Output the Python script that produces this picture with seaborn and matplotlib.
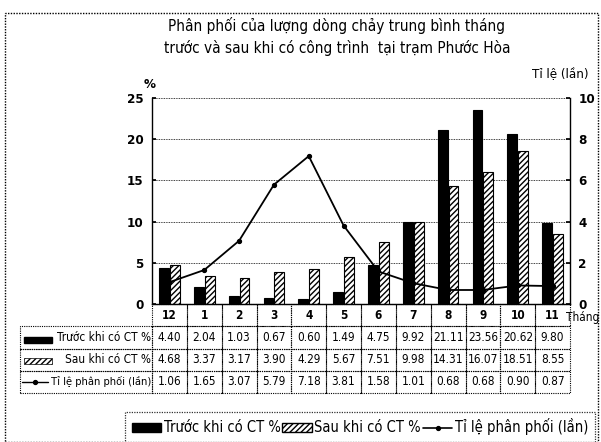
import matplotlib
matplotlib.use("Agg")
import matplotlib.pyplot as plt
from matplotlib.patches import Rectangle
from matplotlib.lines import Line2D
import numpy as np
import pandas as pd
import seaborn as sns

# data
months = ["12", "1", "2", "3", "4", "5", "6", "7", "8", "9", "10", "11"]
truoc = [4.40, 2.04, 1.03, 0.67, 0.60, 1.49, 4.75, 9.92, 21.11, 23.56, 20.62, 9.80]
sau = [4.68, 3.37, 3.17, 3.90, 4.29, 5.67, 7.51, 9.98, 14.31, 16.07, 18.51, 8.55]
ti_le = [1.06, 1.65, 3.07, 5.79, 7.18, 3.81, 1.58, 1.01, 0.68, 0.68, 0.90, 0.87]

lbl_truoc = "Trước khi có CT %"
lbl_sau = "Sau khi có CT %"
lbl_tile = "Tỉ lệ phân phối (lần)"

sns.set_theme(style="white")
plt.rcParams["font.family"] = ["DejaVu Sans"]
plt.rcParams["font.stretch"] = "condensed"
for k in ["text.color", "axes.labelcolor", "xtick.color", "ytick.color"]:
    plt.rcParams[k] = "black"

W, H = 601, 442
fig = plt.figure(figsize=(W / 100, H / 100), dpi=100)

def fx(px):
    return px / W

def fy(py):
    return 1 - py / H

left, right, top, bottom = 152, 570, 98, 304
ax = fig.add_axes([fx(left), fy(bottom), fx(right - left), (bottom - top) / H])

df = pd.DataFrame({
    "month": months * 2,
    "value": truoc + sau,
    "series": [lbl_truoc] * 12 + [lbl_sau] * 12,
})
sns.barplot(data=df, x="month", y="value", hue="series", order=months,
            palette=["black", "white"], edgecolor="black", linewidth=0.8,
            width=0.62, gap=0.08, ax=ax, legend=False)
for p in ax.containers[1]:
    p.set_hatch("//////")

ax.set_xlim(-0.5, 11.5)
ax.set_ylim(0, 25)
ax.set_yticks(range(0, 26, 5))
ax.set_xticks([])
ax.set_xlabel("")
ax.set_ylabel("")
ax.grid(axis="y", linestyle=(0, (1, 1)), color="black", linewidth=0.6)
ax.set_axisbelow(True)
ax.spines["top"].set_visible(False)
for s in ["left", "right", "bottom"]:
    ax.spines[s].set_color("black")
    ax.spines[s].set_linewidth(1.0)
ax.tick_params(axis="y", labelsize=9.5, length=3, direction="in", pad=6)
plt.setp(ax.get_yticklabels(), fontweight="bold")

ax2 = ax.twinx()
ax2.plot(range(12), ti_le, color="black", linewidth=1.3, marker="o",
         markersize=2.8, markerfacecolor="black")
ax2.set_ylim(0, 10)
ax2.set_yticks(range(0, 11, 2))
ax2.tick_params(axis="y", labelsize=9.5, length=3, direction="in", pad=6)
plt.setp(ax2.get_yticklabels(), fontweight="bold")
ax2.grid(False)
for s in ax2.spines.values():
    s.set_visible(False)

# titles and axis captions
fig.text(fx(337), fy(25), "Phân phối của lượng dòng chảy trung bình tháng",
         ha="center", va="center", fontsize=11)
fig.text(fx(337), fy(48), "trước và sau khi có công trình  tại trạm Phước Hòa",
         ha="center", va="center", fontsize=11)
fig.text(fx(150), fy(85), "%", ha="center", va="center", fontsize=9.5, fontweight="bold")
fig.text(fx(588), fy(75), "Tỉ lệ (lần)", ha="right", va="center", fontsize=9.5)
fig.text(fx(566), fy(318), "Tháng", ha="left", va="center", fontsize=8.5)

# data table
cell_text = [[""] + months,
             [lbl_truoc] + ["%.2f" % v for v in truoc],
             [lbl_sau] + ["%.2f" % v for v in sau],
             [lbl_tile] + ["%.2f" % v for v in ti_le]]
t_left, t_bottom = 20, 393
col_w = [(left - t_left)] + [(right - left) / 12] * 12
tbl = ax.table(cellText=cell_text, colWidths=[c / sum(col_w) for c in col_w],
               cellLoc="center",
               bbox=[(t_left - left) / (right - left), -(t_bottom - bottom) / (bottom - top),
                     (right - t_left) / (right - left), (t_bottom - bottom) / (bottom - top)])
tbl.auto_set_font_size(False)
for (r, c), cell in tbl.get_celld().items():
    cell.set_fontsize(8.5)
    cell.set_linewidth(0.8)
    cell.set_linestyle((0, (1, 1)))
    cell.set_edgecolor("black")
    cell.set_facecolor("none")
    cell.get_text().set_color("black")
    if r == 0 and c == 0:
        cell.set_visible(False)
    if c == 0 and r > 0:
        cell.set_text_props(ha="right")
        cell.PAD = 0.005
        if r == 3:
            cell.set_fontsize(8)
    if r == 0:
        cell.set_text_props(fontweight="bold")

# little legend keys inside the row labels
row_mid = [340, 361, 382]
fig.add_artist(Rectangle((fx(24), fy(row_mid[0] + 3)), fx(28), 6 / H,
                         facecolor="black", edgecolor="black", transform=fig.transFigure))
fig.add_artist(Rectangle((fx(24), fy(row_mid[1] + 3)), fx(28), 6 / H,
                         facecolor="white", edgecolor="black", hatch="//////",
                         linewidth=0.5, transform=fig.transFigure))
fig.add_artist(Line2D([fx(22), fx(48)], [fy(row_mid[2]), fy(row_mid[2])], color="black",
                      linewidth=1, transform=fig.transFigure))
fig.add_artist(Line2D([fx(35)], [fy(row_mid[2])], color="black", marker="o",
                      markersize=2.8, transform=fig.transFigure))

# bottom legend
handles = [Rectangle((0, 0), 1, 1, facecolor="black", edgecolor="black"),
           Rectangle((0, 0), 1, 1, facecolor="white", edgecolor="black", hatch="//////"),
           Line2D([], [], color="black", marker="o", markersize=2.8, linewidth=1.2)]
leg = fig.legend(handles, [lbl_truoc, lbl_sau, lbl_tile], ncol=3,
                 loc="lower left", bbox_to_anchor=(fx(125), fy(442), fx(470), 30 / H),
                 mode="expand", frameon=True, fancybox=False, fontsize=10.5,
                 handlelength=2.0, handleheight=0.6, handletextpad=0.2,
                 columnspacing=0.3, borderpad=0.45, borderaxespad=0)
leg.get_frame().set_edgecolor("black")
leg.get_frame().set_linewidth(0.9)
leg.get_frame().set_linestyle((0, (1, 1)))
for t in leg.get_texts():
    t.set_color("black")

# outer border
fig.add_artist(Rectangle((fx(5), 0), fx(593), fy(13), fill=False, edgecolor="black",
                         linewidth=1, linestyle=(0, (1, 1)), transform=fig.transFigure))

fig.savefig("out.png", dpi=100)
